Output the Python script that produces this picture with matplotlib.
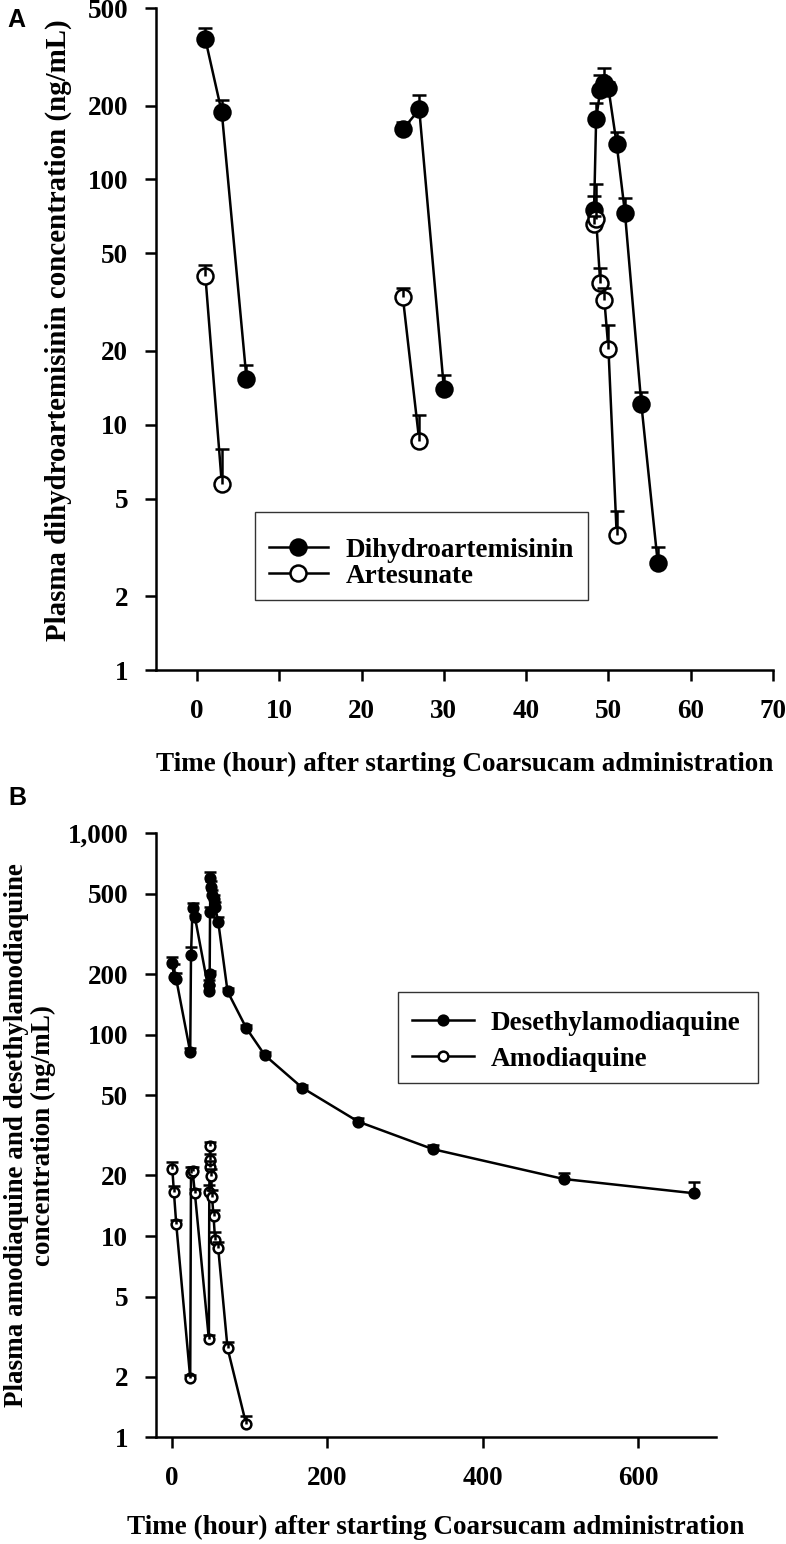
import numpy as np
import matplotlib
matplotlib.use("Agg")
import matplotlib.pyplot as plt
from matplotlib.patches import Rectangle

# ---- panel A : dihydroartemisinin / artesunate (three doses) ----
dha_t = [[1, 3, 6], [25, 27, 30], [48.25, 48.5, 49, 49.5, 50, 51, 52, 54, 56]]
dha_v = [[373, 187.5, 15.4], [160, 193, 14.0], [75, 176, 231, 247, 235, 139, 73.3, 12.1, 2.72]]
dha_sd = [[42, 22.5, 2.1], [12, 28, 2.0], [10.7, 28, 35, 37, 15, 17, 10.7, 1.5, 0.46]]

art_t = [[1, 3], [25, 27], [48.25, 48.5, 49, 49.5, 50, 51]]
art_v = [[40.5, 5.75], [33.2, 8.6], [66, 69, 37.8, 32.2, 20.3, 3.56]]
art_sd = [[4.4, 2.23], [2.8, 2.4], [5, 26.7, 5.9, 3.9, 5.1, 0.87]]

# ---- panel B : desethylamodiaquine / amodiaquine ----
deaq_t = [1, 3, 6, 24, 25, 27, 30, 48, 48.5, 49, 49.5, 50, 51, 52, 54, 56, 60,
          72, 96, 120, 168, 240, 336, 504, 672]
deaq_v = [228, 194, 189, 82, 249, 428, 385, 164, 177, 200, 408, 598, 543, 494, 470,
          433, 364, 164, 108, 79, 54.5, 37, 27, 19.2, 16.3]
deaq_sd = [16, 30, 14, 4, 24, 22, 10, 12, 10, 8, 25, 47, 40, 30, 25, 25, 20,
           6, 4, 3, 2, 1.5, 1.2, 1.3, 2.2]

aq_t = [1, 3, 6, 24, 25, 27, 30, 48, 48.5, 49, 49.5, 50, 51, 52, 54, 56, 60, 72, 96]
aq_v = [21.5, 16.6, 11.5, 1.97, 20.5, 21.1, 16.3, 3.07, 16.5, 22.1, 28.0, 23.8,
        19.9, 15.7, 12.5, 9.55, 8.69, 2.77, 1.16]
aq_sd = [1.9, 1.2, 0.5, 0.06, 1.6, 1.0, 0.9, 0.15, 1.5, 1.6, 1.4, 1.8, 1.5, 1.3,
         1.0, 0.9, 0.7, 0.2, 0.11]

ticks_a_x = [0, 10, 20, 30, 40, 50, 60, 70]
ticks_a_y = [1, 2, 5, 10, 20, 50, 100, 200, 500]
ticks_b_x = [0, 200, 400, 600]
ticks_b_y = [1, 2, 5, 10, 20, 50, 100, 200, 500, 1000]
xlabel = "Time (hour) after starting Coarsucam administration"

plt.rcParams["font.family"] = ["Liberation Serif", "DejaVu Serif"]
plt.rcParams["font.weight"] = "bold"
plt.rcParams["axes.labelweight"] = "bold"
FS = 19.5
LW = 1.8

W, H = 786, 1544
fig = plt.figure(figsize=(W / 100, H / 100), dpi=100)
axA = fig.add_axes([156 / W, 1 - 670 / H, (773 - 156) / W, (670 - 8) / H])
axB = fig.add_axes([156 / W, 1 - 1437.3 / H, (716 - 156) / W, (1437.3 - 833.4) / H])


def style(ax, xt, yt):
    ax.set_yscale("log")
    for s in ("top", "right"):
        ax.spines[s].set_visible(False)
    for s in ("left", "bottom"):
        ax.spines[s].set_linewidth(LW)
    ax.set_xticks(xt)
    ax.set_yticks(yt)
    ax.set_yticklabels([f"{v:,}" for v in yt])
    ax.minorticks_off()
    ax.tick_params(direction="out", length=8, width=LW, labelsize=FS)
    ax.tick_params(axis="y", pad=12)
    ax.tick_params(axis="x", pad=13)


def series(ax, t, v, sd, filled, ms, cap, label=None):
    # upper SD only: drop the lower cap
    _, caps, _ = ax.errorbar(t, v, yerr=[np.zeros(len(sd)), sd], fmt="none",
                             ecolor="black", elinewidth=LW, capsize=cap,
                             capthick=LW, zorder=4)
    caps[0].remove()
    ax.plot(t, v, "-o", color="black", lw=LW, ms=ms, mew=LW,
            mfc="black" if filled else "white", mec="black", zorder=3, label=label)


def frame(x0, y0, x1, y1):
    fig.add_artist(Rectangle((x0 / W, 1 - y1 / H), (x1 - x0) / W, (y1 - y0) / H,
                             transform=fig.transFigure, fill=False,
                             edgecolor="#333333", lw=1.0, zorder=5))


# panel A
for i in range(3):
    series(axA, dha_t[i], dha_v[i], dha_sd[i], True, 11.5, 4.7,
           "Dihydroartemisinin" if i == 0 else None)
    series(axA, art_t[i], art_v[i], art_sd[i], False, 11.5, 4.7,
           "Artesunate" if i == 0 else None)
style(axA, ticks_a_x, ticks_a_y)
axA.set_xlim(-5, 70)
axA.set_ylim(1, 500)
axA.set_xlabel(xlabel, fontsize=FS, labelpad=20)
axA.legend(loc="upper left", bbox_to_anchor=(0.1605, 0.2205), borderaxespad=0,
           prop={"weight": "bold", "size": FS}, frameon=False,
           handlelength=2.2, handletextpad=0.65, borderpad=0.5, labelspacing=0.05)
frame(255, 511.7, 588, 600)

# panel B
series(axB, deaq_t, deaq_v, deaq_sd, True, 7, 4.3, "Desethylamodiaquine")
series(axB, aq_t, aq_v, aq_sd, False, 7, 4.3, "Amodiaquine")
style(axB, ticks_b_x, ticks_b_y)
axB.set_xlim(-20, 700)
axB.set_ylim(1, 1000)
axB.set_xlabel(xlabel, fontsize=FS, labelpad=17)
axB.legend(loc="upper left", bbox_to_anchor=(0.4327, 0.729), borderaxespad=0,
           prop={"weight": "bold", "size": FS}, frameon=False,
           handlelength=2.3, handletextpad=0.6, borderpad=0.5, labelspacing=0.42)
frame(398.3, 992.3, 758, 1083.3)

# y labels
fig.text(58 / W, 1 - 330 / H, "Plasma dihydroartemisinin concentration (ng/mL)",
         rotation=90, ha="center", va="center", fontsize=20.8)
fig.text(30 / W, 1 - 1135 / H,
         "Plasma amodiaquine and desethylamodiaquine\nconcentration (ng/mL)",
         rotation=90, ha="center", va="center", ma="center", linespacing=1.1,
         fontsize=FS)

# panel letters
fig.text(16 / W, 1 - 20 / H, "A", ha="center", va="center", fontsize=18,
         fontfamily="Liberation Sans", fontweight="bold")
fig.text(17 / W, 1 - 798 / H, "B", ha="center", va="center", fontsize=18,
         fontfamily="Liberation Sans", fontweight="bold")

fig.savefig("out.png", dpi=100)
